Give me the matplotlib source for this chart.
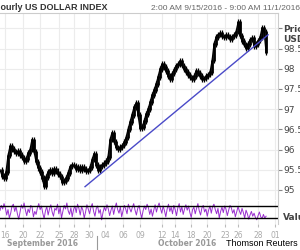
import numpy as np
import matplotlib
matplotlib.use("Agg")
import matplotlib.pyplot as plt

# hourly US dollar index closes (one value every few hours)
price = [95.50, 95.35, 95.28, 95.45, 95.85, 96.08, 96.02, 95.95, 95.90, 95.96,
         95.86, 95.80, 95.72, 95.76, 95.92, 96.00, 96.25, 95.95, 95.70, 95.55,
         95.45, 95.30, 95.10, 95.32, 95.45, 95.50, 95.42, 95.52, 95.46, 95.40,
         95.33, 95.20, 95.22, 95.30, 95.42, 95.58, 95.62, 95.60, 95.52, 95.56,
         95.50, 95.57, 95.52, 95.46, 95.48, 95.56, 95.75, 95.90, 95.62, 95.50,
         95.58, 95.62, 95.66, 95.72, 95.82, 96.25, 96.42, 96.20, 96.05, 96.00,
         96.06, 96.10, 96.18, 96.30, 96.50, 96.68, 96.85, 97.05, 97.15, 96.85,
         96.52, 96.56, 96.70, 96.88, 97.00, 97.17, 97.35, 97.48, 97.62, 97.80,
         98.00, 98.12, 98.05, 97.95, 97.82, 97.75, 97.88, 97.98, 98.08, 98.12,
         98.20, 98.08, 98.00, 97.92, 97.85, 97.78, 97.74, 97.82, 97.95, 97.90,
         97.82, 97.74, 97.76, 97.82, 97.86, 97.92, 98.20, 98.62, 98.78, 98.85,
         98.88, 98.80, 98.78, 98.84, 98.80, 98.74, 98.80, 98.84, 98.92, 99.15,
         98.82, 98.68, 98.60, 98.50, 98.62, 98.72, 98.76, 98.55, 98.62, 98.70,
         98.78, 99.02, 98.92, 98.40]

# oscillator in the lower panel
rsi = [55, 72, 60, 78, 64, 40, 58, 30, 46, 70,
       76, 52, 68, 44, 26, 50, 74, 62, 80, 56,
       38, 60, 48, 72, 66, 34, 52, 42, 64, 78,
       58, 70, 46, 28, 54, 68, 40, 60, 74, 50,
       36, 62, 56, 76, 44, 66, 30, 52, 72, 60,
       80, 54, 42, 64, 34, 58, 70, 48, 76, 62,
       40, 68, 56, 30, 50, 74, 60, 44, 66, 78,
       52, 36, 62, 70, 46, 58, 24, 48, 66, 54,
       74, 60, 38, 56, 70, 42, 64, 80, 58, 46,
       68, 34, 54, 72, 60, 44, 76, 62, 50, 66,
       78, 56, 40, 62, 72, 48, 30, 54, 70, 58,
       76, 64, 42, 60, 36, 56, 74, 50, 68, 80,
       62, 46, 70, 54, 34, 60, 76, 52, 66, 44,
       72, 58, 38, 64, 78, 50, 68, 42, 60, 74,
       56, 70, 48, 32, 58, 66, 44, 62, 78, 54,
       40, 64, 72, 50, 60, 36, 56, 70, 46, 68,
       76, 58, 44, 62, 30, 52, 66, 48, 70, 60,
       38, 56, 72, 64, 46, 58, 34, 50, 68, 54,
       42, 62, 48, 30, 56, 44, 26, 40, 52, 36,
       46, 32, 24, 38, 50, 34, 28, 42, 30, 36]

# trend line (start / end)
trend_x = [42.5, 134]
trend_y = [95.08, 98.84]

date_ticks = [2.5, 11.5, 20, 29.5, 37, 44.5, 52.5, 61.5, 70, 81, 87.5,
              95.5, 103.5, 112.5, 119, 129, 137.5]
date_labels = ["16", "20", "22", "25", "28", "30", "04", "06", "09", "12",
               "14", "18", "20", "23", "26", "28", "01"]
price_ticks = [95, 95.5, 96, 96.5, 97, 97.5, 98, 98.5, 99]
price_labels = ["95", "95.5", "96", "96.5", "97", "97.5", "98", "98.5", ""]

fig = plt.figure(figsize=(3, 2.5), dpi=100)
ax = fig.add_axes([0, 0.2, 0.927, 0.748])
ax2 = fig.add_axes([0, 0.104, 0.927, 0.092])

x = np.arange(len(price))
p = np.array(price)
lo = np.minimum(p[:-1], p[1:])
hi = np.maximum(p[:-1], p[1:])
ax.vlines(x[1:], lo - 0.07, hi + 0.07, color="black", lw=0.9)
ax.vlines(x[1:], lo - 0.02, hi + 0.02, color="black", lw=2.0)
ax.plot(x, p, color="black", lw=0.9)
ax.plot(trend_x, trend_y, color="#4a4ac8", lw=1)

ax.set_xlim(0, 139)
ax.set_ylim(94.75, 99.38)
ax.set_xticks(date_ticks)
ax.set_xticklabels([])
ax.set_yticks(price_ticks)
ax.set_yticklabels(price_labels)
ax.yaxis.tick_right()
ax.tick_params(axis="y", colors="#888888", labelcolor="#444444", labelsize=6.5,
               length=3, pad=1)
ax.tick_params(axis="x", length=0)
ax.grid(True, color="#ececec", lw=0.8)
for s in ["left", "bottom"]:
    ax.spines[s].set_visible(False)
for s in ["top", "right"]:
    ax.spines[s].set_color("#cccccc")

ax2.plot(np.linspace(0, 133, len(rsi)), rsi, color="#9a2fd0", lw=0.7)
ax2.axhline(70, color="black", lw=1)
ax2.axhline(30, color="black", lw=1)
ax2.set_xlim(0, 139)
ax2.set_ylim(10, 86.7)
ax2.set_yticks([])
ax2.set_xticks(date_ticks)
ax2.set_xticklabels(date_labels)
ax2.tick_params(axis="x", colors="#bbbbbb", labelcolor="#aaaaaa", labelsize=5.5,
                length=2, pad=3)
ax2.grid(True, axis="x", color="#ececec", lw=0.8)
for s in ["left", "bottom", "top"]:
    ax2.spines[s].set_visible(False)
ax2.spines["right"].set_color("#cccccc")

# header and side labels
fig.text(-6 / 300, 1 - 8 / 250, "Hourly US DOLLAR INDEX", fontsize=6.5,
         family="Liberation Sans", fontweight="bold", color="#333333",
         va="center")
fig.text(151 / 300, 1 - 8 / 250, "2:00 AM 9/15/2016 - 9:00 AM 11/1/2016 (GMT)",
         fontsize=6, family="Liberation Sans", color="#666666", va="center")
fig.text(283 / 300, 1 - 30 / 250, "Price", fontsize=6.5, fontweight="bold",
         color="#444444", va="center")
fig.text(283 / 300, 1 - 40 / 250, "USD", fontsize=6.5, fontweight="bold",
         color="#444444", va="center")
fig.text(283 / 300, 1 - 218 / 250, "Value", fontsize=6.5, fontweight="bold",
         color="#444444", va="center")
fig.text(42 / 300, 1 - 243 / 250, "September 2016", fontsize=5.5,
         fontweight="bold", color="#999999", ha="center", va="center")
fig.text(187 / 300, 1 - 243 / 250, "October 2016", fontsize=5.5,
         fontweight="bold", color="#999999", ha="center", va="center")
fig.text(226 / 300, 1 - 243 / 250, "Thomson Reuters", fontsize=6.5,
         family="Liberation Sans", color="black", va="center")
fig.add_artist(plt.Line2D([97 / 300, 97 / 300], [0, 1 - 236 / 250],
                          color="#999999", lw=0.8))

fig.savefig("out.png", dpi=100)
